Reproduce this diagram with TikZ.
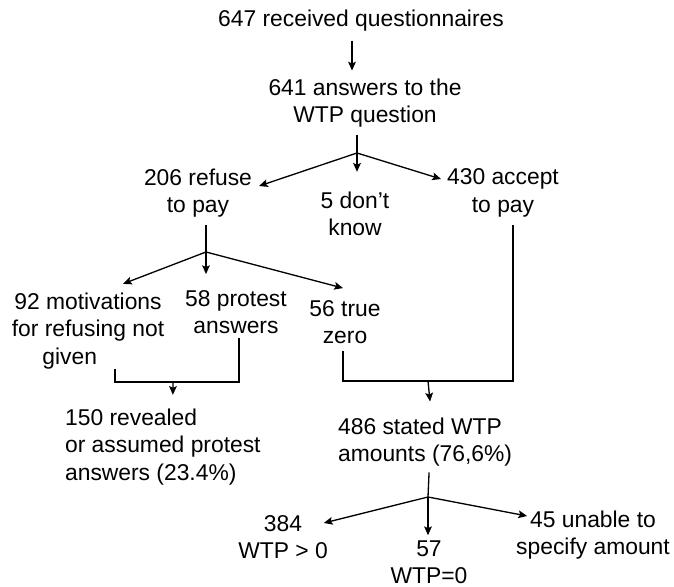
\documentclass[tikz,border=0pt]{standalone}
\usepackage{fontspec}
\setmainfont{Liberation Sans}
\usetikzlibrary{arrows.meta,calc}

\begin{document}
\begin{tikzpicture}[x=0.02cm, y=-0.02cm,
    box/.style={align=center, inner sep=1pt, font=\fontsize{13}{15.6}\selectfont},
    link/.style={line width=0.75pt},
    arr/.style={link, -{Stealth[length=5pt,width=4.4pt,inset=1pt]}}]

    % Fix the frame
    \useasboundingbox (0,0) rectangle (674,587);

    % Counts
    \node[box] (recv) at (361,21) {647 received questionnaires};
    \node[box] (wtp) at (365,103) {641 answers to the\\WTP question};
    \node[box] (refuse) at (198,193) {206 refuse\\to pay};
    \node[box] (dontknow) at (355,214) {5 don't\\know};
    \node[box] (accept) at (503,193) {430 accept\\to pay};
    \node[box] (motiv) at (88,331) {92 motivations\\for refusing not\\given\hspace*{1.6em}};
    \node[box] (protest) at (236,312) {58 protest\\answers};
    \node[box] (zero) at (345,322) {56 true\\zero};
    \node[box, anchor=west, align=left] (revealed) at (63,447) {150 revealed\\or assumed protest\\answers (23.4\%)};
    \node[box, anchor=west, align=left] (stated) at (336,442) {486 stated WTP\\amounts (76,6\%)};
    \node[box] (positive) at (283,537) {384\\WTP > 0};
    \node[box] (nullwtp) at (429,562) {57\\WTP=0};
    \node[box] (unable) at (593,535) {45 unable to\\specify amount};

    % Branch points
    \coordinate (s1) at (357,153);
    \coordinate (s2) at (206,252);
    \coordinate (s3) at (173,382);
    \coordinate (s4) at (428,381);
    \coordinate (s5) at (428,497);

    % First split
    \draw[arr] ($(recv.south)+(-9,7)$) -- ($(wtp.north)+(-13,-6)$);
    \draw[link] ($(wtp.south)+(-8,6)$) -- (s1);
    \draw[arr] (s1) -- ($(refuse.east)+(5,-7)$);
    \draw[arr] (s1) -- ($(dontknow.north)+(2,-18)$);
    \draw[arr] (s1) -- ($(accept.west)+(-4,-14)$);

    % Refusals
    \draw[link] ($(refuse.south)+(8,6)$) -- (s2);
    \draw[arr] (s2) -- ($(motiv.north)+(35,-7)$);
    \draw[arr] (s2) -- ($(protest.north)+(-30,-14)$);
    \draw[arr] (s2) -- ($(zero.north)+(-2,-10)$);

    % Protest answers
    \draw[link] ($(motiv.south)+(27,-2)$) |- (s3) -| ($(protest.south)+(3,2)$);
    \draw[arr] (s3) -- ($(revealed.north)+(10,-12)$);

    % Stated amounts
    \draw[link] ($(zero.south)+(-2,5)$) |- (s4) -| ($(accept.south)+(10,6)$);
    \draw[arr] (s4) -- ($(stated.north)+(5,-14)$);
    \draw[link] ($(stated.south)+(4,4)$) -- (s5);
    \draw[arr] (s5) -- ($(positive.east)+(-6,-14)$);
    \draw[arr] (s5) -- ($(nullwtp.north)+(-1,-3)$);
    \draw[arr] (s5) -- ($(unable.west)+(13,-19)$);
\end{tikzpicture}
\end{document}
